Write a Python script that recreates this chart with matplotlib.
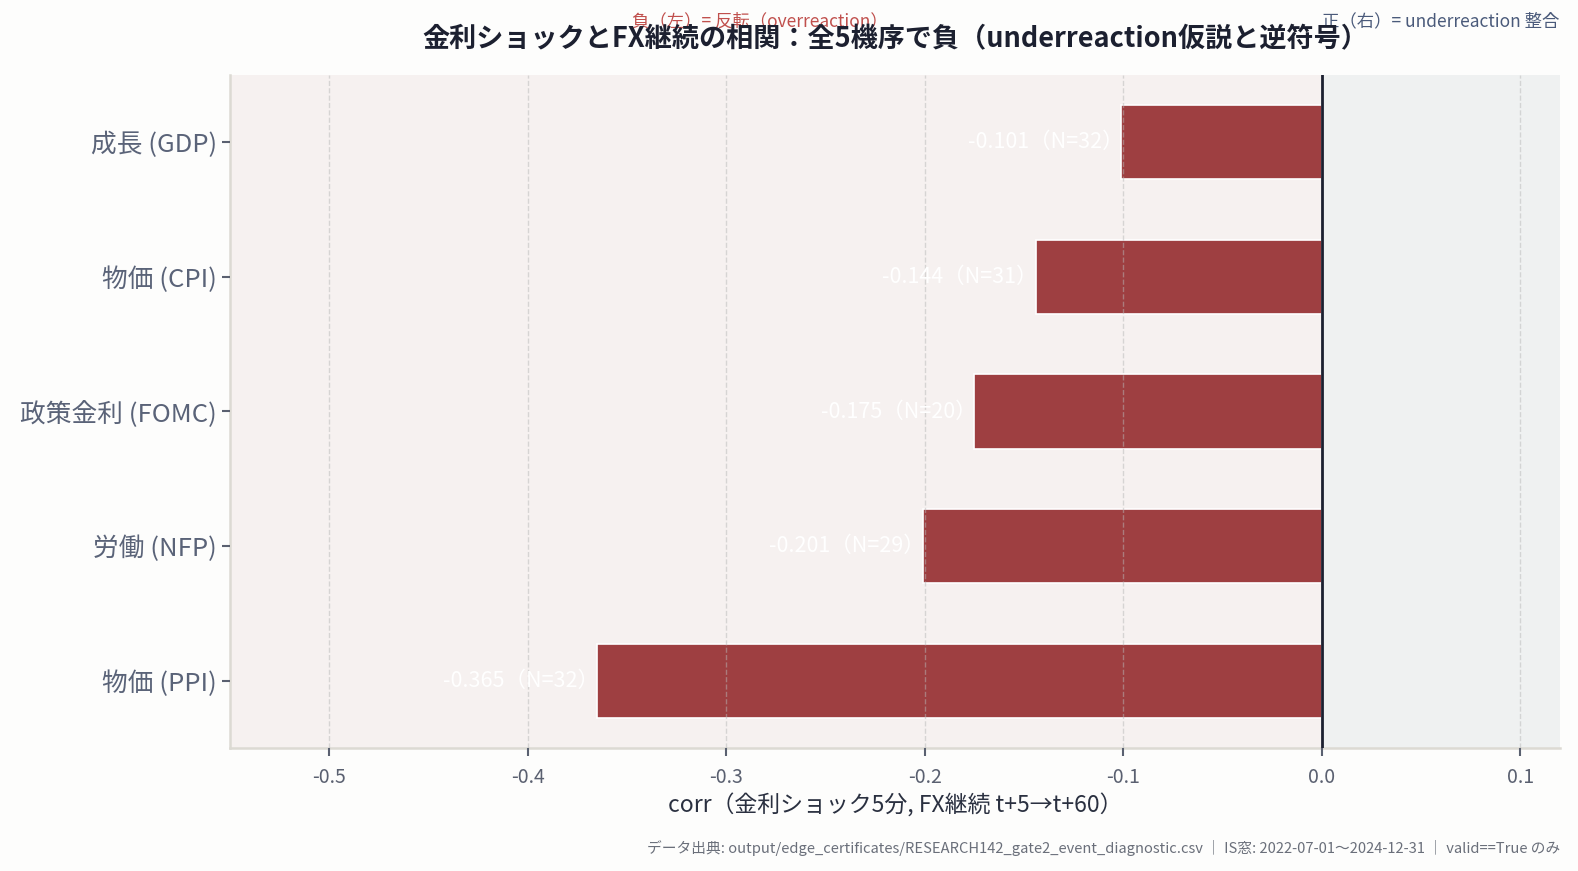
import matplotlib
matplotlib.use("Agg")
import matplotlib.pyplot as plt

plt.rcParams['font.family'] = ['Noto Sans CJK JP', 'DejaVu Sans']

events = ["成長 (GDP)", "物価 (CPI)", "政策金利 (FOMC)", "労働 (NFP)", "物価 (PPI)"]
corr = [-0.101, -0.144, -0.175, -0.201, -0.365]
n_obs = [32, 31, 20, 29, 32]
xticks = [-0.5, -0.4, -0.3, -0.2, -0.1, 0.0, 0.1]

fig = plt.figure(figsize=(15.78, 8.71), dpi=100, facecolor="#fdfdfc")
ax = fig.add_axes([230 / 1578, 1 - 748 / 871, (1560 - 230) / 1578, (748 - 75) / 871])
ax.set_facecolor("#fdfdfc")

xmin, xmax = -0.55, 0.12
ax.axvspan(xmin, 0, color="#f6f1f0", zorder=0)
ax.axvspan(0, xmax, color="#eff1f1", zorder=0)

y = list(range(len(events)))
ax.barh(y, corr, height=0.55, color="#9e3f41", edgecolor="white", linewidth=1.2, zorder=2)

for yi, c, n in zip(y, corr, n_obs):
    ax.text(c + 0.001, yi, f"{c:.3f}（N={n}）", ha="right", va="center",
            color="white", fontsize=15.5, zorder=4)

ax.axvline(0, color="#1c2030", lw=2, zorder=5)

ax.set_xlim(xmin, xmax)
ax.set_ylim(4.5, -0.5)
ax.set_yticks(y)
ax.set_yticklabels(events, fontsize=18.5, color="#5a6378")
ax.set_xticks(xticks)
ax.set_xticklabels([f"{t:.1f}" for t in xticks], fontsize=14, color="#5a6070")
ax.tick_params(axis="both", colors="#5a6070", length=6, width=1.5)
ax.tick_params(axis="x", labelcolor="#5a6070", pad=8)
ax.tick_params(axis="y", labelcolor="#5a6378")

ax.grid(axis="x", color="#b8b8b8", alpha=0.5, linestyle="--", lw=1, zorder=3)
ax.set_axisbelow(False)

for s in ["top", "right"]:
    ax.spines[s].set_visible(False)
for s in ["left", "bottom"]:
    ax.spines[s].set_color("#dcdad3")
    ax.spines[s].set_linewidth(1.8)

ax.set_xlabel("corr（金利ショック5分, FX継続 t+5→t+60）", fontsize=16.5, color="#2a3040", labelpad=4)

ax.set_title("金利ショックとFX継続の相関：全5機序で負（underreaction仮説と逆符号）",
             fontsize=19.5, fontweight="bold", color="#1c2030", pad=20)

ax.text(-0.283, 1.08, "負（左）= 反転（overreaction）", transform=ax.get_xaxis_transform(),
        ha="center", va="center", fontsize=12.5, color="#c0504d")
ax.text(0.0, 1.08, "正（右）= underreaction 整合", transform=ax.get_xaxis_transform(),
        ha="left", va="center", fontsize=12.5, color="#4a5a7a")

fig.text(1560 / 1578, 1 - 848 / 871,
         "データ出典: output/edge_certificates/RESEARCH142_gate2_event_diagnostic.csv ｜ IS窓: 2022-07-01〜2024-12-31 ｜ valid==True のみ",
         ha="right", va="center", fontsize=10.6, color="#6a6f7a")

fig.savefig("out.png", dpi=100, facecolor=fig.get_facecolor())
